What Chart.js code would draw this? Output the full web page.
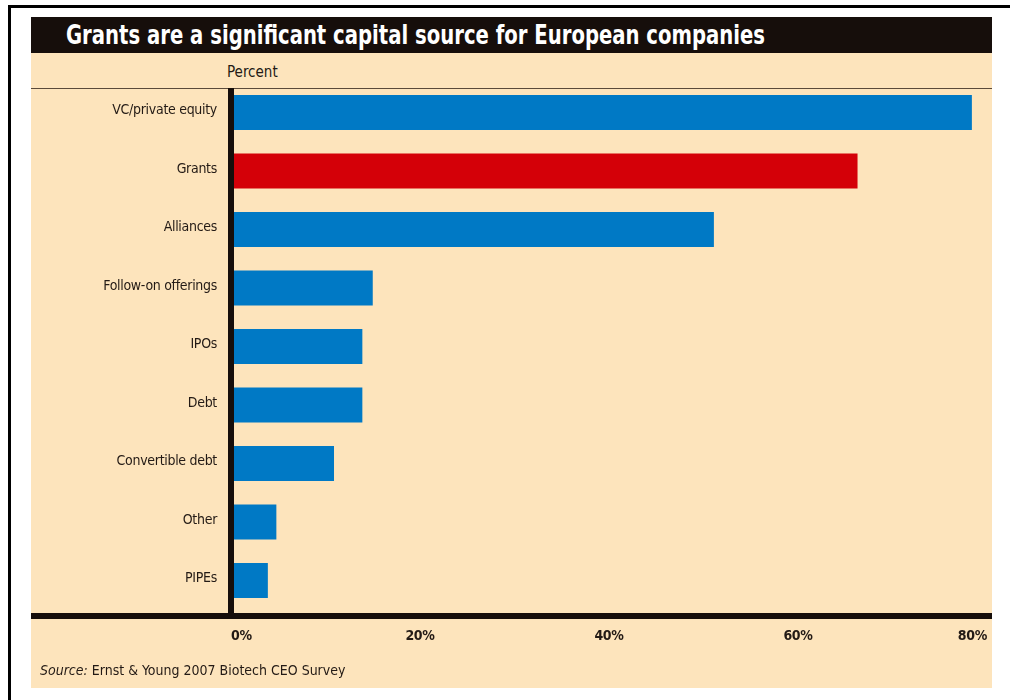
<!DOCTYPE html>
<html>
    <head>
        <meta charset="utf-8">
        <script src="https://cdn.jsdelivr.net/npm/chart.js"></script>
        <style>
            body { margin: 0; width: 1010px; height: 700px; overflow: hidden; background: #ffffff;
                   font-family: "DejaVu Sans Condensed", "Liberation Sans", sans-serif; }
            .abs { position: absolute; }
            #frame { left: 8px; top: 5px; width: 1010px; height: 700px; border-top: 3px solid #000; border-left: 3px solid #000; }
            #panel { left: 31px; top: 17px; width: 961px; height: 671px; background: #fde4bc; }
            #titlebar { left: 31px; top: 17px; width: 961px; height: 36px; background: #160e0b; }
            #title { left: 66px; top: 17px; height: 36px; color: #ffffff; font-weight: bold; font-size: 26px;
                     line-height: 36px; white-space: nowrap; transform: scaleX(0.84); transform-origin: 0 0; }
            #percent { left: 227px; top: 63px; font-size: 15px; color: #231a15; }
            #rule { left: 31px; top: 88px; width: 961px; height: 1px; background: #5b4a3a; }
            #source { left: 40px; top: 662px; font-size: 14px; color: #231a15; white-space: nowrap; }
            #wrap { left: 31px; top: 53px; width: 961px; height: 635px; }
        </style>
        <script type="text/javascript">
    // Share of European companies using each capital source (percent)
    const sources = ['VC/private equity', 'Grants', 'Alliances', 'Follow-on offerings', 'IPOs',
                     'Debt', 'Convertible debt', 'Other', 'PIPEs'];
    const shares = [78.4, 66.3, 51.1, 15.0, 13.9, 13.9, 10.9, 4.8, 3.9];
    const highlight = 'Grants';
    const xTicks = [0, 20, 40, 60, 80];

    const blue = '#0079c5';
    const red = '#d40008';
    const ink = '#231a15';
    const narrow = '"DejaVu Sans Condensed", "Liberation Sans", sans-serif';

    var myChart = null;

    // tighter letters for the axis labels
    const tightText = {
        id: 'tightText',
        beforeDraw(chart) {
            chart.ctx.letterSpacing = '-0.3px';
        }
    };

    // thick black zero line and baseline, like the print graphic
    const axisLines = {
        id: 'axisLines',
        afterDatasetsDraw(chart) {
            const ctx = chart.ctx;
            const area = chart.chartArea;
            const x0 = chart.scales.x.getPixelForValue(0);
            const yBase = area.bottom + 6.25;
            ctx.save();
            ctx.fillStyle = '#160e0b';
            ctx.fillRect(x0 - 3, 35, 6, yBase + 3 - 35);
            ctx.fillRect(0, yBase - 3, chart.width, 6);
            ctx.restore();
        }
    };

    function loadChart() {
        if (myChart != null) {
            return;
        }
        myChart = new Chart(document.getElementById('myChart'), {
            type: 'bar',
            data: {
                labels: sources,
                datasets: [{
                    data: shares,
                    backgroundColor: sources.map(s => s == highlight ? red : blue),
                    barPercentage: 0.6,
                    categoryPercentage: 1.0
                }]
            },
            options: {
                indexAxis: 'y',
                responsive: true,
                maintainAspectRatio: false,
                animation: false,
                layout: { padding: { top: 30.25, bottom: 0, left: 0, right: 5 } },
                plugins: { legend: { display: false }, tooltip: { enabled: false } },
                scales: {
                    x: {
                        min: 0, max: 80,
                        afterBuildTicks: (scale) => { scale.ticks = xTicks.map(v => ({ value: v })); },
                        afterFit: (scale) => {
                            scale.height = 78.25;
                            scale.paddingLeft = 0;
                            scale.paddingRight = 0;
                        },
                        grid: { display: false, drawTicks: false },
                        border: { display: false },
                        ticks: {
                            align: 'inner',
                            padding: 18,
                            color: ink,
                            font: { family: narrow, size: 14, weight: 'bold' },
                            callback: (v) => v + '%'
                        }
                    },
                    y: {
                        afterFit: (scale) => { scale.width = 200; },
                        grid: { display: false, drawTicks: false },
                        border: { display: false },
                        ticks: {
                            padding: 14,
                            labelOffset: -2,
                            color: ink,
                            font: { family: narrow, size: 14 }
                        }
                    }
                }
            },
            plugins: [tightText, axisLines]
        });
    }
        </script>
    </head>
    <body onLoad="loadChart()">
        <div id="frame" class="abs"></div>
        <div id="panel" class="abs"></div>
        <div id="titlebar" class="abs"></div>
        <div id="title" class="abs">Grants are a significant capital source for European companies</div>
        <div id="percent" class="abs">Percent</div>
        <div id="rule" class="abs"></div>
        <div id="wrap" class="abs"><canvas id="myChart"></canvas></div>
        <div id="source" class="abs"><i>Source:</i> Ernst &amp; Young 2007 Biotech CEO Survey</div>
    </body>
</html>
